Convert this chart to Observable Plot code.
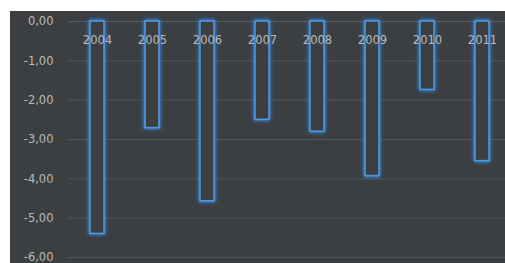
<!DOCTYPE html>
<html>
<head>
<meta charset="utf-8">
<script src="https://cdn.jsdelivr.net/npm/d3@7"></script>
<script src="https://cdn.jsdelivr.net/npm/@observablehq/plot@0.6"></script>
<style>
  html, body { margin: 0; padding: 0; background: #ffffff; }
  #chart { position: absolute; left: 10px; top: 11px; }
  #chart svg { display: block; background: #3c3f42; }
  .bars rect { filter: drop-shadow(0 0 1.5px #3d8ce0) drop-shadow(0 0 2px #2f6fb5); }
</style>
</head>
<body>
<div id="chart"></div>
<script>
const years = ["2004", "2005", "2006", "2007", "2008", "2009", "2010", "2011"];
const values = [-5.40, -2.71, -4.57, -2.50, -2.80, -3.93, -1.74, -3.55];
const yTicks = [0, -1, -2, -3, -4, -5, -6];

const data = years.map((year, i) => ({year, value: values[i]}));
const fmt = v => d3.format(".2f")(v).replace("−", "-").replace(".", ",");

const chart = Plot.plot({
  width: 495,
  height: 252,
  marginTop: 10,
  marginBottom: 6,
  marginLeft: 58,
  marginRight: 0,
  style: {background: "#3c3f42", fontFamily: "DejaVu Sans, sans-serif", overflow: "visible"},
  x: {domain: years, range: [58, 501], paddingInner: 0.74, paddingOuter: 0.37, axis: null},
  y: {domain: [-6, 0], axis: null},
  marks: [
    Plot.ruleY(yTicks.filter(d => d !== 0), {stroke: "#525558", strokeWidth: 1}),
    Plot.ruleY([0], {stroke: "#5a5d60", strokeWidth: 1}),
    Plot.axisY({ticks: yTicks, label: null, tickSize: 0, tickPadding: 15, tickFormat: fmt, fontSize: 11.5, fill: "#b9b9b9", color: "#b9b9b9"}),
    Plot.barY(data, {x: "year", y1: 0, y2: "value", fill: "#3c3f42", stroke: "#529ae0", strokeWidth: 1.5, className: "bars"}),
    Plot.text(years, {x: d => d, frameAnchor: "top", lineAnchor: "middle", dy: 19, fill: "#b9b9b9", fontSize: 11.5})
  ]
});
document.getElementById("chart").appendChild(chart);
</script>
</body>
</html>
